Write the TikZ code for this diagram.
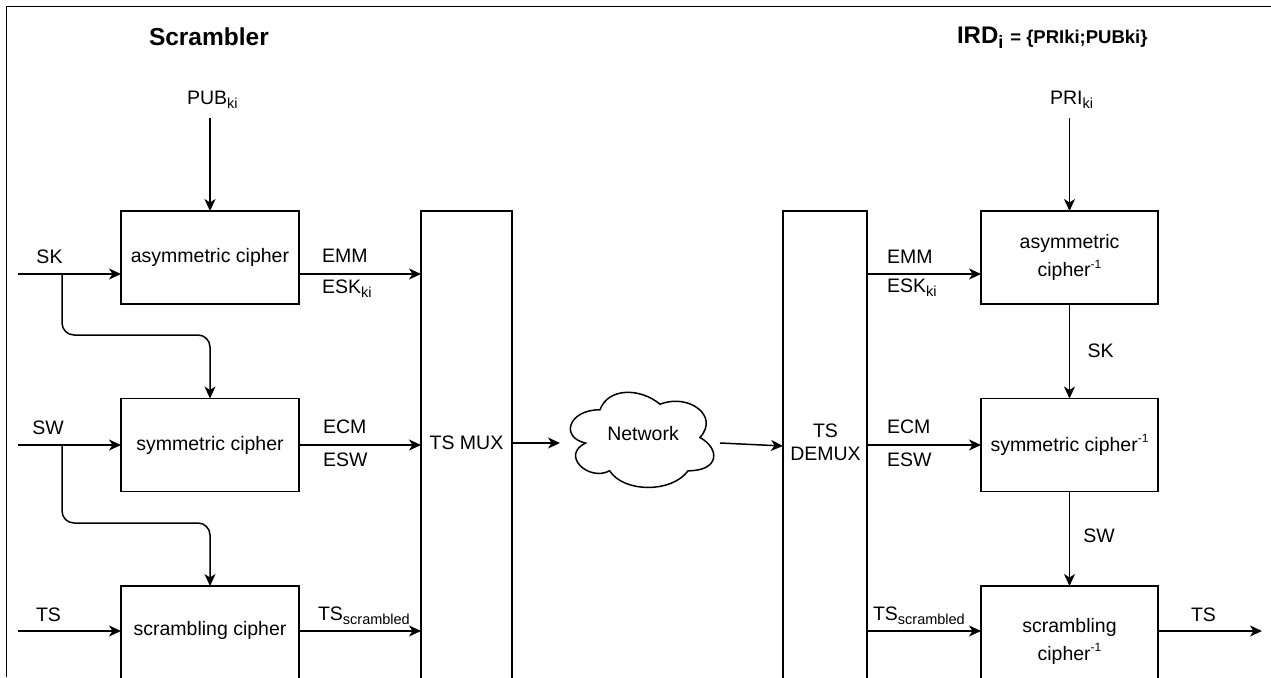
\documentclass[tikz,border=0pt]{standalone}
\usepackage{fontspec}
\setmainfont{Liberation Sans}
\usetikzlibrary{arrows.meta,calc}
\newcommand\subt[1]{\raisebox{-4pt}{\fontsize{14.5}{14.5}\selectfont #1}}
\newcommand\supt[1]{\raisebox{8.5pt}{\fontsize{12}{12}\selectfont #1}}
\begin{document}
\begin{tikzpicture}[x=1pt,y=-1pt,
  every node/.style={inner sep=0pt, outer sep=0pt, font=\fontsize{19.5}{23.4}\selectfont},
  box/.style={draw, line width=1.5pt, minimum width=178pt, minimum height=93pt},
  twoline/.style={align=center, font=\fontsize{19.5}{28}\selectfont},
  conn/.style={line width=1.5pt, -{Stealth[length=12pt,width=11pt,inset=3.5pt]}},
  wire/.style={line width=1.5pt},
]
\useasboundingbox (0,0) rectangle (1271,677);
\clip (0,0) rectangle (1271,677);
\draw[wire] (6.5,677) -- (6.5,6.5) -- (1271,6.5);

% titles
\node[anchor=base west, font=\fontsize{24.5}{28}\selectfont\bfseries] (ttlS) at (149,46) {Scrambler};
\node[anchor=base west] (ttlI) at (957,44) {{\fontsize{24}{26}\selectfont\bfseries IRD}\raisebox{-5pt}{\fontsize{18}{18}\selectfont\bfseries i}\hspace{7pt}{\fontsize{18.5}{20}\selectfont\bfseries = \{PRIki;PUBki\}}};

% scrambler boxes
\node[box] (asym) at (210,257.5) {asymmetric cipher};
\node[box] (sym) at (210,445) {symmetric cipher};
\node[box, minimum height=130pt, anchor=north] (scr) at (210,586) {};
\node (scrT) at (210,630) {scrambling cipher};
\node[draw, line width=1.5pt, minimum width=91pt, minimum height=560pt, anchor=north] (mux) at (466.5,211) {};
\node (muxT) at (466.5,443) {TS MUX};

% network cloud
\node[minimum width=160pt, minimum height=111pt] (net) at (640,437.5) {};
\begin{scope}[shift={(net.north west)}, x=160pt, y=-111pt]
\draw[line width=1.5pt] (0.25,0.25) .. controls (0.05,0.25) and (0,0.5) .. (0.16,0.55)
  .. controls (0,0.66) and (0.18,0.9) .. (0.31,0.8)
  .. controls (0.4,1) and (0.7,1) .. (0.8,0.8)
  .. controls (1,0.8) and (1,0.6) .. (0.875,0.5)
  .. controls (1,0.3) and (0.8,0.1) .. (0.625,0.2)
  .. controls (0.5,0.05) and (0.3,0.05) .. (0.25,0.25) -- cycle;
\end{scope}
\node (netT) at (643,434) {Network};

% descrambler boxes
\node[draw, line width=1.5pt, minimum width=84pt, minimum height=560pt, anchor=north] (demux) at (825,211) {};
\node[align=center] (demuxT) at (825.5,442) {TS\\DEMUX};
\node[box, minimum width=177pt, twoline] (rasym) at (1069.5,257.5) {asymmetric\\cipher\supt{-1}};
\node[box, minimum width=177pt] (rsym) at (1069.5,445) {symmetric cipher\supt{-1}};
\node[box, minimum width=177pt, minimum height=130pt, anchor=north] (rscr) at (1069.5,586) {};
\node[twoline] (rscrT) at (1069.5,641) {scrambling\\cipher\supt{-1}};

% inputs, scrambler side
\coordinate (skIn) at (18,274);
\coordinate (skBr) at (62,274);
\coordinate (skBend) at (62,335);
\node[anchor=base] (skL) at (49.5,263) {SK};
\draw[conn] (skIn) -- (skIn -| asym.west);
\draw[conn, rounded corners=12pt] (skBr) -- (skBend) -- (skBend -| sym.north) -- (sym.north);

\coordinate (swIn) at (18,445);
\coordinate (swBr) at (62,445);
\coordinate (swBend) at (62,523);
\node[anchor=base] (swL) at (48,434) {SW};
\draw[conn] (swIn) -- (sym.west);
\draw[conn, rounded corners=12pt] (swBr) -- (swBend) -- (swBend -| scr.north) -- (scr.north);

\coordinate (tsIn) at (18,631);
\node[anchor=base] (tsL) at (48.5,621) {TS};
\draw[conn] (tsIn) -- (tsIn -| scr.west);

\node[anchor=base west] (pubL) at (187,104) {PUB\subt{ki}};
\coordinate (pubS) at (210,118);
\draw[conn] (pubS) -- (asym.north);

% scrambler outputs
\draw[conn] (asym.east |- skIn) -- (mux.west |- skIn);
\node[anchor=base west] (emmL) at (322,262) {EMM};
\node[anchor=base west] (eskL) at (322,293) {ESK\subt{ki}};
\draw[conn] (sym.east) -- (mux.west |- sym.east);
\node[anchor=base west] (ecmL) at (323,433) {ECM};
\node[anchor=base west] (eswL) at (323,466) {ESW};
\draw[conn] (tsIn -| scr.east) -- (tsIn -| mux.west);
\node[anchor=base west] (tssL) at (318,620) {TS\subt{scrambled}};

% network links
\coordinate (muxOut) at (512,443);
\draw[conn] (mux.east |- muxOut) -- (net.west |- muxOut);
\draw[conn] ([yshift=-5.5pt]net.east) -- (demux.west |- 0,446);

% descrambler side
\draw[conn] (demux.east |- skIn) -- (rasym.west |- skIn);
\node[anchor=base west] (remmL) at (887,263) {EMM};
\node[anchor=base west] (reskL) at (887,292) {ESK\subt{ki}};
\draw[conn] (demux.east |- rsym.west) -- (rsym.west);
\node[anchor=base west] (recmL) at (887,433) {ECM};
\node[anchor=base west] (reswL) at (887,466) {ESW};
\draw[conn] (demux.east |- tsIn) -- (rscr.west |- tsIn);
\node[anchor=base west] (rtssL) at (873,620) {TS\subt{scrambled}};

\node[anchor=base west] (priL) at (1050,104) {PRI\subt{ki}};
\coordinate (priS) at (1069.5,118);
\draw[conn] (priS) -- (rasym.north);
\draw[conn] (rasym.south) -- (rsym.north);
\node[anchor=base] (rskL) at (1100.5,357) {SK};
\draw[conn] (rsym.south) -- (rscr.north);
\node[anchor=base] (rswL) at (1099,542) {SW};

\coordinate (tsOut) at (1262,631);
\draw[conn] (rscr.east |- tsOut) -- (tsOut);
\node[anchor=base] (tsoL) at (1203.5,621) {TS};
\end{tikzpicture}
\end{document}
